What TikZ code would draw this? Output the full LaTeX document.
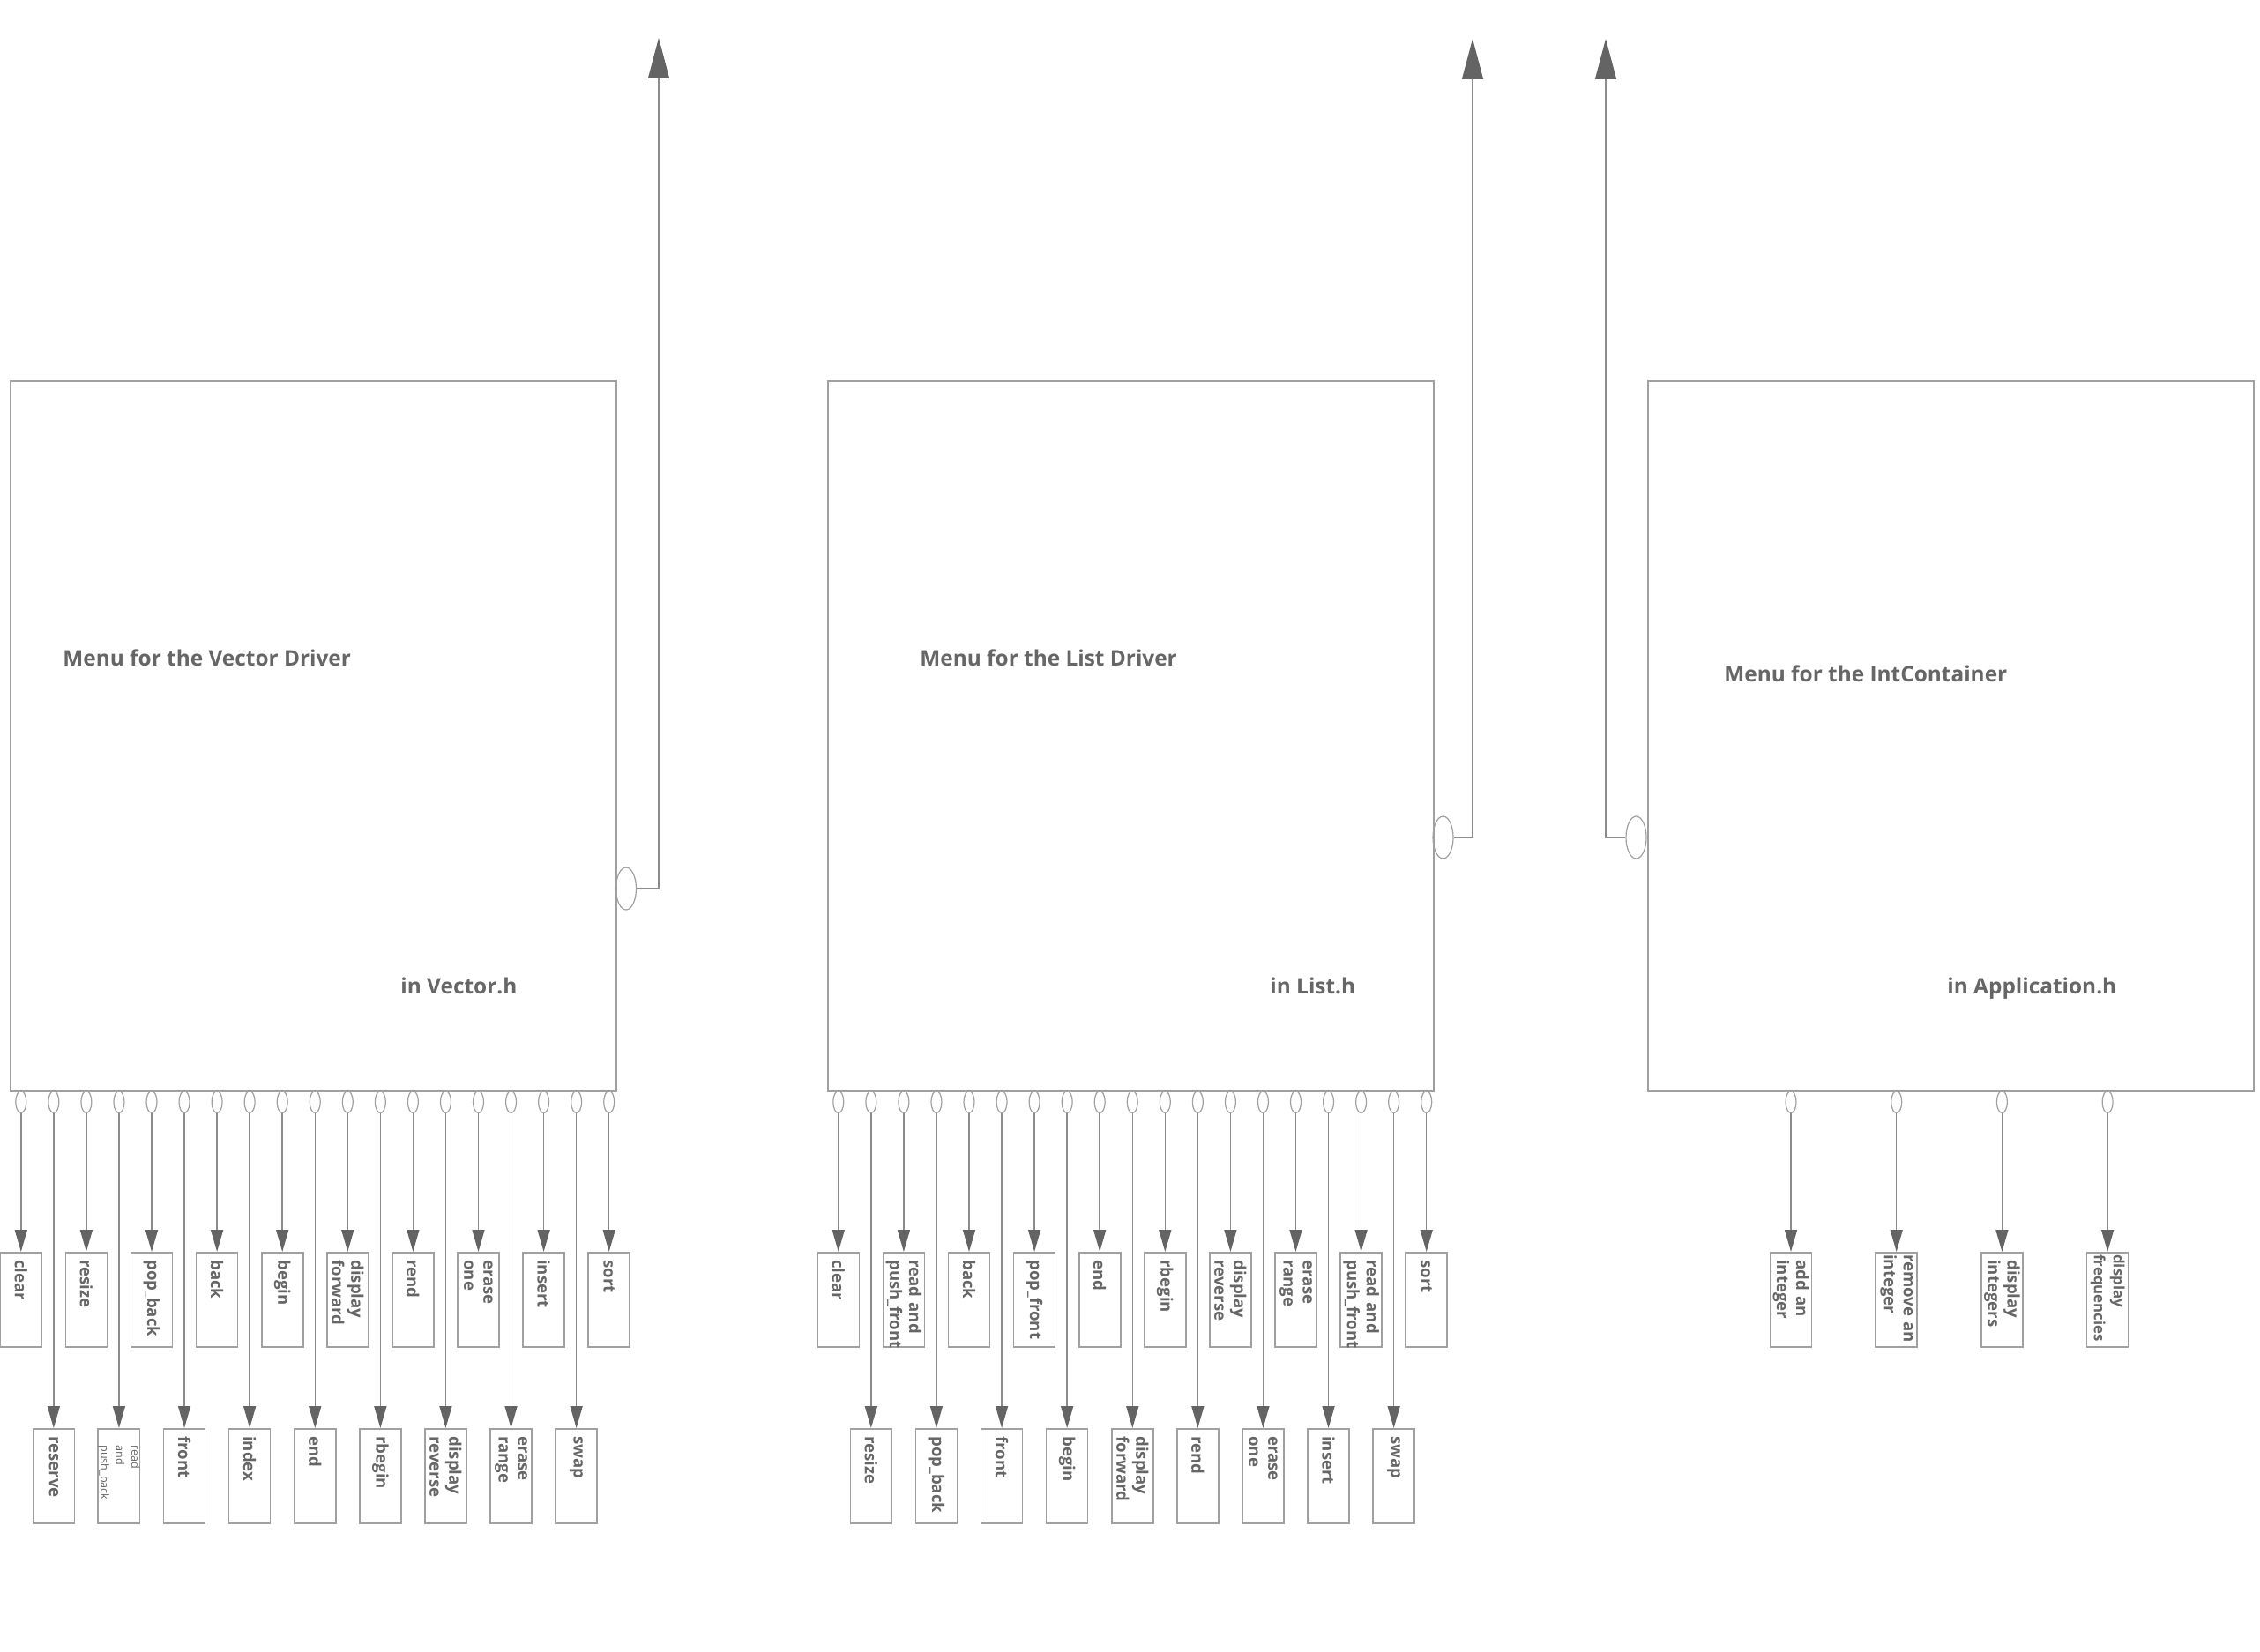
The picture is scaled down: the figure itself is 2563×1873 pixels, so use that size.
\documentclass[tikz,border=0pt]{standalone}
\usepackage{fontspec}
\setmainfont{Open Sans}
\usetikzlibrary{shapes.geometric, arrows.meta}
\definecolor{linegray}{RGB}{140, 140, 140}
\definecolor{boxgray}{RGB}{160, 160, 160}
\definecolor{headgray}{RGB}{100, 100, 100}
\definecolor{textgray}{RGB}{102, 102, 102}

\begin{document}
\begin{tikzpicture}[
    x=0.5pt, y=-0.5pt,
    menubox/.style={rectangle, draw=boxgray, line width=0.8pt, minimum width=343.5pt,
                    minimum height=403pt, anchor=north west, inner sep=0pt},
    title/.style={anchor=base west, inner sep=0pt, text=textgray,
                  font=\fontsize{12.2}{15}\selectfont\bfseries},
    port/.style={ellipse, draw=boxgray, line width=0.6pt, minimum width=6pt,
                 minimum height=12.5pt, inner sep=0pt},
    sideport/.style={port, minimum width=11.5pt, minimum height=24pt},
    itembox/.style={rectangle, draw=boxgray, line width=0.8pt, rotate=-90, anchor=west,
                    minimum width=53.5pt, minimum height=23.5pt, text width=45pt,
                    align=left, inner xsep=4pt, inner ysep=0.5pt, text=textgray,
                    font=\fontsize{9.3}{11}\selectfont\bfseries},
    widebox/.style={itembox, text width=51pt, inner xsep=1pt},
    smallbox/.style={itembox, text width=35pt, inner xsep=9pt, inner ysep=0pt,
                     font=\fontsize{6.3}{8.7}\selectfont},
    arrow/.style={draw=linegray, line width=0.75pt,
                  -{Triangle[length=12.5pt, width=7pt, color=headgray]}},
    bigarrow/.style={draw=linegray, line width=0.75pt,
                     -{Triangle[length=23pt, width=12pt, color=headgray]}},
]
\useasboundingbox (0,0) rectangle (2563,1873);

% ---- Vector driver ----
\node[menubox] (vecmenu) at (11,431) {};
\node[title] (vectitle) at (71,755) {Menu for the Vector Driver};
\node[title] (vecfile)  at (454,1127) {in Vector.h};
\node[sideport] (vecside) at (710,1008) {};
\coordinate (vectop) at (747,43);
\draw[bigarrow] (vecside) -| (vectop);

\node[port] (vp1)  at (23.8,1250) {};
\node[port] (vp2)  at (60.85,1250) {};
\node[port] (vp3)  at (97.9,1250) {};
\node[port] (vp4)  at (134.95,1250) {};
\node[port] (vp5)  at (172.0,1250) {};
\node[port] (vp6)  at (209.05,1250) {};
\node[port] (vp7)  at (246.1,1250) {};
\node[port] (vp8)  at (283.15,1250) {};
\node[port] (vp9)  at (320.2,1250) {};
\node[port] (vp10) at (357.25,1250) {};
\node[port] (vp11) at (394.3,1250) {};
\node[port] (vp12) at (431.35,1250) {};
\node[port] (vp13) at (468.4,1250) {};
\node[port] (vp14) at (505.45,1250) {};
\node[port] (vp15) at (542.5,1250) {};
\node[port] (vp16) at (579.55,1250) {};
\node[port] (vp17) at (616.6,1250) {};
\node[port] (vp18) at (653.65,1250) {};
\node[port] (vp19) at (690.7,1250) {};

\node[itembox]  (vclear)    at (23.8,1420)   {clear};
\node[itembox]  (vreserve)  at (60.85,1620)  {reserve};
\node[itembox]  (vresize)   at (97.9,1420)   {resize};
\node[smallbox] (vreadpb)   at (134.95,1620) {read\\and\\push\_back};
\node[itembox]  (vpopback)  at (172.0,1420)  {pop\_back};
\node[itembox]  (vfront)    at (209.05,1620) {front};
\node[itembox]  (vback)     at (246.1,1420)  {back};
\node[itembox]  (vindex)    at (283.15,1620) {index};
\node[itembox]  (vbegin)    at (320.2,1420)  {begin};
\node[itembox]  (vend)      at (357.25,1620) {end};
\node[itembox]  (vdispfwd)  at (394.3,1420)  {display\\forward};
\node[itembox]  (vrbegin)   at (431.35,1620) {rbegin};
\node[itembox]  (vrend)     at (468.4,1420)  {rend};
\node[itembox]  (vdisprev)  at (505.45,1620) {display\\reverse};
\node[itembox]  (veraseone) at (542.5,1420)  {erase\\one};
\node[itembox]  (veraserng) at (579.55,1620) {erase\\range};
\node[itembox]  (vinsert)   at (616.6,1420)  {insert};
\node[itembox]  (vswap)     at (653.65,1620) {swap};
\node[itembox]  (vsort)     at (690.7,1420)  {sort};

\draw[arrow] (vp1)  -- (vclear);
\draw[arrow] (vp2)  -- (vreserve);
\draw[arrow] (vp3)  -- (vresize);
\draw[arrow] (vp4)  -- (vreadpb);
\draw[arrow] (vp5)  -- (vpopback);
\draw[arrow] (vp6)  -- (vfront);
\draw[arrow] (vp7)  -- (vback);
\draw[arrow] (vp8)  -- (vindex);
\draw[arrow] (vp9)  -- (vbegin);
\draw[arrow] (vp10) -- (vend);
\draw[arrow] (vp11) -- (vdispfwd);
\draw[arrow] (vp12) -- (vrbegin);
\draw[arrow] (vp13) -- (vrend);
\draw[arrow] (vp14) -- (vdisprev);
\draw[arrow] (vp15) -- (veraseone);
\draw[arrow] (vp16) -- (veraserng);
\draw[arrow] (vp17) -- (vinsert);
\draw[arrow] (vp18) -- (vswap);
\draw[arrow] (vp19) -- (vsort);

% ---- List driver ----
\node[menubox] (listmenu) at (938,431) {};
\node[title] (listtitle) at (1043,755) {Menu for the List Driver};
\node[title] (listfile)  at (1440,1127) {in List.h};
\node[sideport] (listside) at (1636.5,950) {};
\coordinate (listtop) at (1670,44);
\draw[bigarrow] (listside) -| (listtop);

\node[port] (lp1)  at (950.8,1250) {};
\node[port] (lp2)  at (987.85,1250) {};
\node[port] (lp3)  at (1024.9,1250) {};
\node[port] (lp4)  at (1061.95,1250) {};
\node[port] (lp5)  at (1099.0,1250) {};
\node[port] (lp6)  at (1136.05,1250) {};
\node[port] (lp7)  at (1173.1,1250) {};
\node[port] (lp8)  at (1210.15,1250) {};
\node[port] (lp9)  at (1247.2,1250) {};
\node[port] (lp10) at (1284.25,1250) {};
\node[port] (lp11) at (1321.3,1250) {};
\node[port] (lp12) at (1358.35,1250) {};
\node[port] (lp13) at (1395.4,1250) {};
\node[port] (lp14) at (1432.45,1250) {};
\node[port] (lp15) at (1469.5,1250) {};
\node[port] (lp16) at (1506.55,1250) {};
\node[port] (lp17) at (1543.6,1250) {};
\node[port] (lp18) at (1580.65,1250) {};
\node[port] (lp19) at (1617.7,1250) {};

\node[itembox] (lclear)    at (950.8,1420)   {clear};
\node[itembox] (lresize)   at (987.85,1620)  {resize};
\node[itembox] (lreadpf)   at (1024.9,1420)  {read and\\push\_front};
\node[itembox] (lpopback)  at (1061.95,1620) {pop\_back};
\node[itembox] (lback)     at (1099.0,1420)  {back};
\node[itembox] (lfront)    at (1136.05,1620) {front};
\node[itembox] (lpopfront) at (1173.1,1420)  {pop\_front};
\node[itembox] (lbegin)    at (1210.15,1620) {begin};
\node[itembox] (lend)      at (1247.2,1420)  {end};
\node[itembox] (ldispfwd)  at (1284.25,1620) {display\\forward};
\node[itembox] (lrbegin)   at (1321.3,1420)  {rbegin};
\node[itembox] (lrend)     at (1358.35,1620) {rend};
\node[itembox] (ldisprev)  at (1395.4,1420)  {display\\reverse};
\node[itembox] (leraseone) at (1432.45,1620) {erase\\one};
\node[itembox] (leraserng) at (1469.5,1420)  {erase\\range};
\node[itembox] (linsert)   at (1506.55,1620) {insert};
\node[itembox] (lreadpf2)  at (1543.6,1420)  {read and\\push\_front};
\node[itembox] (lswap)     at (1580.65,1620) {swap};
\node[itembox] (lsort)     at (1617.7,1420)  {sort};

\draw[arrow] (lp1)  -- (lclear);
\draw[arrow] (lp2)  -- (lresize);
\draw[arrow] (lp3)  -- (lreadpf);
\draw[arrow] (lp4)  -- (lpopback);
\draw[arrow] (lp5)  -- (lback);
\draw[arrow] (lp6)  -- (lfront);
\draw[arrow] (lp7)  -- (lpopfront);
\draw[arrow] (lp8)  -- (lbegin);
\draw[arrow] (lp9)  -- (lend);
\draw[arrow] (lp10) -- (ldispfwd);
\draw[arrow] (lp11) -- (lrbegin);
\draw[arrow] (lp12) -- (lrend);
\draw[arrow] (lp13) -- (ldisprev);
\draw[arrow] (lp14) -- (leraseone);
\draw[arrow] (lp15) -- (leraserng);
\draw[arrow] (lp16) -- (linsert);
\draw[arrow] (lp17) -- (lreadpf2);
\draw[arrow] (lp18) -- (lswap);
\draw[arrow] (lp19) -- (lsort);

% ---- IntContainer ----
\node[menubox] (appmenu) at (1868,431) {};
\node[title] (apptitle) at (1955,773) {Menu for the IntContainer};
\node[title] (appfile)  at (2208,1127) {in Application.h};
\node[sideport] (appside) at (1855.5,950) {};
\coordinate (apptop) at (1821,44);
\draw[bigarrow] (appside) -| (apptop);

\node[port] (ap1) at (2031,1250) {};
\node[port] (ap2) at (2150.7,1250) {};
\node[port] (ap3) at (2270.4,1250) {};
\node[port] (ap4) at (2390.1,1250) {};

\node[itembox] (aadd)    at (2031,1420)   {add an\\integer};
\node[widebox] (aremove) at (2150.7,1420) {remove an\\integer};
\node[itembox] (ashow)   at (2270.4,1420) {display\\integers};
\node[widebox, font=\fontsize{8.4}{11}\selectfont\bfseries]
               (afreq)   at (2390.1,1420) {display\\frequencies};

\draw[arrow] (ap1) -- (aadd);
\draw[arrow] (ap2) -- (aremove);
\draw[arrow] (ap3) -- (ashow);
\draw[arrow] (ap4) -- (afreq);

\end{tikzpicture}
\end{document}
